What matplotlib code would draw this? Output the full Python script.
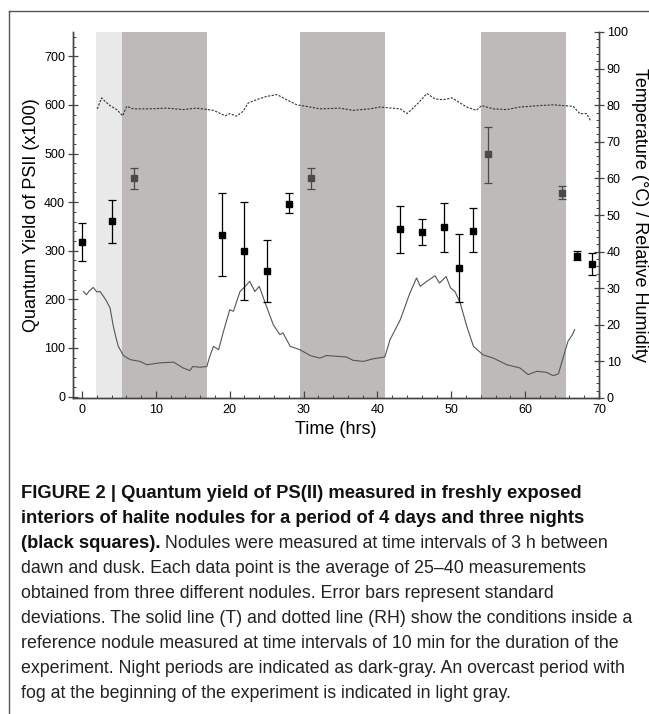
import matplotlib
matplotlib.use("Agg")
import matplotlib.pyplot as plt
from matplotlib.lines import Line2D
from matplotlib.ticker import MultipleLocator

plt.rcParams["font.family"] = ["Liberation Sans", "DejaVu Sans"]

# -----------------------------
# Data
# -----------------------------
# quantum yield, day measurements (black squares)
day_t = [0, 4, 19, 22, 25, 28, 43, 46, 49, 51, 53, 67, 69]
day_y = [318, 361, 333, 299, 259, 397, 344, 338, 348, 264, 341, 290, 273]
day_lo = [279, 316, 247, 198, 194, 377, 296, 311, 297, 195, 298, 280, 251]
day_hi = [357, 405, 418, 400, 323, 418, 392, 365, 399, 334, 388, 300, 295]

# measurements taken in night / dusk periods (gray squares)
night_t = [7, 31, 55, 65]
night_y = [449, 449, 498, 419]
night_lo = [427, 427, 440, 406]
night_hi = [471, 471, 555, 434]

# temperature (solid line), right axis units
temp_t = [0.18, 0.6, 1.0, 1.53, 2.0, 2.44, 3.0, 3.34, 3.8, 4.24, 4.6, 4.92, 5.6, 6.5,
          7.85, 8.76, 10.56, 12.4, 13.7, 14.6, 15.0, 16.0, 16.9, 17.3, 17.8, 18.5,
          19.1, 20.0, 20.5, 21.4, 22.1, 22.7, 23.4, 24.0, 24.8, 25.9, 26.8, 27.2,
          28.2, 29.5, 30.9, 32.2, 33.1, 35.8, 36.7, 38.1, 39.4, 41.0, 41.7, 43.1,
          44.4, 45.3, 45.8, 46.7, 47.8, 48.4, 49.3, 49.9, 50.5, 51.2, 52.1, 53.0,
          54.3, 55.7, 57.5, 59.3, 60.4, 61.6, 62.9, 63.8, 64.5, 65.2, 65.8, 66.4, 66.7]
temp_v = [29.1, 28.2, 29.3, 30.2, 29.0, 29.1, 27.5, 26.4, 24.6, 19.6, 16.5, 14.1, 11.6, 10.5,
          10.0, 9.1, 9.6, 9.8, 8.2, 7.5, 8.6, 8.4, 8.6, 11.4, 14.1, 13.2,
          17.8, 24.1, 23.7, 29.1, 30.5, 31.9, 29.1, 30.5, 26.0, 20.0, 17.3, 17.8,
          14.1, 13.2, 11.6, 10.9, 11.6, 11.2, 10.3, 10.0, 10.7, 11.2, 15.9, 21.4,
          28.7, 32.8, 30.5, 31.9, 33.4, 31.4, 33.2, 30.1, 29.1, 26.0, 19.6, 14.1,
          11.8, 10.9, 9.1, 8.2, 6.4, 7.3, 7.0, 6.1, 6.6, 11.4, 15.5, 17.3, 18.7]

# relative humidity (dashed line), right axis units
rh_t = [2.07, 2.66, 3.1, 3.79, 4.7, 5.5, 6.05, 6.95, 9.2, 11.5, 13.7, 15.5, 17.8,
        19.4, 20.0, 20.9, 21.8, 22.5, 23.6, 25.0, 26.4, 27.7, 29.1, 30.9, 32.2,
        34.9, 36.7, 39.0, 40.3, 43.1, 44.0, 45.3, 46.7, 47.8, 48.9, 50.1, 51.2,
        52.1, 53.4, 54.1, 55.7, 57.5, 59.3, 62.0, 63.8, 66.5, 67.4, 68.3, 68.9]
rh_v = [79.0, 82.0, 81.1, 79.9, 78.8, 77.1, 79.7, 79.0, 79.0, 79.2, 78.8, 79.2, 78.6,
        77.1, 77.7, 77.0, 78.3, 80.6, 81.5, 82.4, 82.9, 81.5, 80.1, 79.5, 79.0,
        79.2, 78.6, 79.0, 79.5, 79.0, 77.7, 80.1, 83.2, 81.7, 81.5, 82.0, 80.6,
        79.5, 78.6, 79.9, 79.0, 78.8, 79.5, 79.9, 80.1, 79.7, 77.7, 77.7, 75.6]

# shaded periods (hours)
fog_period = (1.9, 5.4)
night_periods = [(5.4, 16.9), (29.5, 41.0), (54.0, 65.5)]

caption_bold = [
    "FIGURE 2 | Quantum yield of PS(II) measured in freshly exposed",
    "interiors of halite nodules for a period of 4 days and three nights",
    "(black squares).",
]
caption_rest = [
    " Nodules were measured at time intervals of 3 h between",
    "dawn and dusk. Each data point is the average of 25\u201340 measurements",
    "obtained from three different nodules. Error bars represent standard",
    "deviations. The solid line (T) and dotted line (RH) show the conditions inside a",
    "reference nodule measured at time intervals of 10 min for the duration of the",
    "experiment. Night periods are indicated as dark-gray. An overcast period with",
    "fog at the beginning of the experiment is indicated in light gray.",
]

# -----------------------------
# Figure
# -----------------------------
W, H = 649, 714
fig = plt.figure(figsize=(W / 100, H / 100), dpi=100)
ax = fig.add_axes([72.7 / W, 1 - 398 / H, (599 - 72.7) / W, (398 - 32) / H])
ax2 = ax.twinx()
ax.set_zorder(2)
ax2.set_zorder(1)
ax.patch.set_visible(False)

# shading
ax2.axvspan(*fog_period, color="#e9e9e9", lw=0, zorder=0)
for a, b in night_periods:
    ax2.axvspan(a, b, color="#bfbaba", lw=0, zorder=0)

# T and RH
ax2.plot(temp_t, temp_v, color="#555555", lw=0.8)
ax2.plot(rh_t, rh_v, color="#333333", lw=0.8, dashes=(2, 1.3))

# quantum yield
ax.errorbar(day_t, day_y,
            yerr=[[y - l for y, l in zip(day_y, day_lo)], [h - y for y, h in zip(day_y, day_hi)]],
            fmt="s", color="black", ms=5, capsize=3, elinewidth=0.9, capthick=0.9)
ax.errorbar(night_t, night_y,
            yerr=[[y - l for y, l in zip(night_y, night_lo)], [h - y for y, h in zip(night_y, night_hi)]],
            fmt="s", color="#4a4a4a", ms=5, capsize=3, elinewidth=0.9, capthick=0.9)

ax.set_xlim(-1.26, 70)
ax.set_ylim(-3, 750)
ax2.set_ylim(0, 100)

spine_col = "#444444"
for a in (ax, ax2):
    a.spines["top"].set_visible(False)
    for s in a.spines.values():
        s.set_color(spine_col)
        s.set_linewidth(1.0)

ax.xaxis.set_major_locator(MultipleLocator(10))
ax.xaxis.set_minor_locator(MultipleLocator(2))
ax.yaxis.set_major_locator(MultipleLocator(100))
ax.yaxis.set_minor_locator(MultipleLocator(20))
ax2.yaxis.set_major_locator(MultipleLocator(10))
ax2.yaxis.set_minor_locator(MultipleLocator(2))

ax.tick_params(axis="x", which="major", direction="in", length=5, width=0.9,
               color=spine_col, labelsize=9, pad=4)
ax.tick_params(axis="x", which="minor", direction="in", length=2.5, width=0.7, color=spine_col)
ax.tick_params(axis="y", which="major", direction="inout", length=7, width=0.9,
               color=spine_col, labelsize=9, pad=2)
ax.tick_params(axis="y", which="minor", direction="in", length=2.5, width=0.7, color=spine_col)
ax2.tick_params(axis="y", which="major", direction="inout", length=7, width=0.9,
                color=spine_col, labelsize=9, pad=2)
ax2.tick_params(axis="y", which="minor", direction="in", length=2.5, width=0.7, color=spine_col)

ax.set_xlabel("Time (hrs)", fontsize=13, labelpad=4)
ax.set_ylabel("Quantum Yield of PSII (x100)", fontsize=13, labelpad=3)
ax2.set_ylabel("Temperature (\u00b0C) / Relative Humidity", fontsize=13, rotation=270,
               labelpad=15)

# panel frame (top and left edges)
fig.add_artist(Line2D([9 / W, 9 / W], [0, 1 - 11 / H], transform=fig.transFigure,
                      color="#555555", lw=1.0))
fig.add_artist(Line2D([9 / W, 1], [1 - 11 / H, 1 - 11 / H], transform=fig.transFigure,
                      color="#555555", lw=1.0))

# -----------------------------
# Caption
# -----------------------------
bold_size = 13.2
reg_size = 12.8
x0 = 21 / W
y_first = 498   # baseline of first caption line (px from top)
step = 25
t = None
for i, line in enumerate(caption_bold):
    t = fig.text(x0, 1 - (y_first + i * step) / H, line, fontsize=bold_size,
                 fontweight="bold", va="baseline", ha="left", color="#111111")
fig.add_artist(plt.Annotation(caption_rest[0],
                              xy=(1, 1 - (y_first + 2 * step) / H),
                              xycoords=(t, "figure fraction"),
                              va="baseline", ha="left", fontsize=reg_size,
                              color="#222222"))
for i, line in enumerate(caption_rest[1:]):
    fig.text(x0, 1 - (y_first + (i + 3) * step) / H, line, fontsize=reg_size,
             va="baseline", ha="left", color="#222222")

fig.savefig("out.png", dpi=100)
